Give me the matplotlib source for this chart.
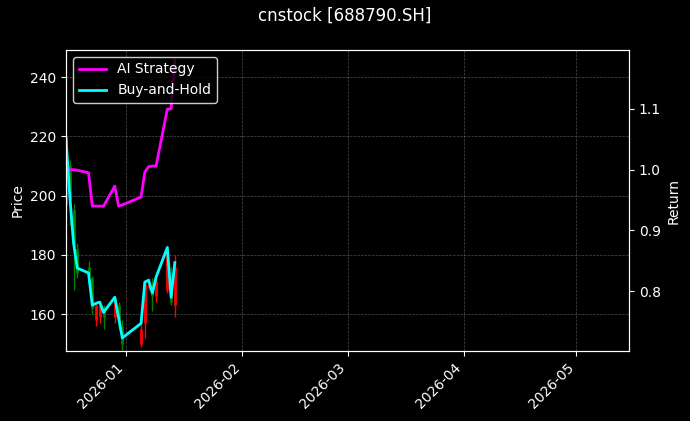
import matplotlib
matplotlib.use("Agg")
import matplotlib.pyplot as plt
import matplotlib.dates as mdates
import pandas as pd

dates = pd.to_datetime(["2025-12-16","2025-12-17","2025-12-18","2025-12-19","2025-12-22","2025-12-23",
    "2025-12-24","2025-12-25","2025-12-26","2025-12-29","2025-12-30","2025-12-31",
    "2026-01-05","2026-01-06","2026-01-07","2026-01-08","2026-01-09","2026-01-12","2026-01-13","2026-01-14"])
opens  = [197,210,195,182,176,172,158,159,162,159,163,156,150,157,169,168,166,168,173,163]
highs  = [220,212,197,184,178,173,164,163,163,166,164,158,157,171,172,172,172,183,176,180]
lows   = [195,190,168,172,170,160,156,157,155,157,155,148,149,152,168,161,164,167,163,159]
closes = [219,199,183,174,173,162,163,163,159,164,157,150,155,170,170,166,171,181,164,176]
ai_ret = [1.0,1.0,1.0,0.999,0.995,0.94,0.94,0.94,0.94,0.973,0.94,0.942,0.955,0.996,1.005,1.006,1.006,1.10,1.10,1.18]
bh_ret = [1.052,0.957,0.88,0.838,0.830,0.777,0.780,0.782,0.765,0.790,0.757,0.723,0.747,0.815,0.818,0.797,0.823,0.872,0.790,0.847]

fig = plt.figure(figsize=(6.9, 4.21), dpi=100, facecolor="black")
ax = fig.add_axes([66/690, 70/421, 563/690, 301/421], facecolor="black")
ax2 = ax.twinx()

for d, o, h, l, c in zip(dates, opens, highs, lows, closes):
    col = "red" if c >= o else "green"
    ax.vlines(d, l, h, color=col, linewidth=1)
    ax.vlines(d, min(o, c), max(o, c), color=col, linewidth=2)

ax2.plot(dates, ai_ret, color="#ff00ff", linewidth=2, label="AI Strategy")
ax2.plot(dates, bh_ret, color="#00ffff", linewidth=2, label="Buy-and-Hold")

ax.set_xlim(pd.Timestamp("2025-12-16"), pd.Timestamp("2026-05-15"))
ax.set_ylim(147.5, 249.2)
ax2.set_ylim(0.7015, 1.197)
ax.xaxis.set_major_locator(mdates.MonthLocator())
ax.xaxis.set_major_formatter(mdates.DateFormatter("%Y-%m"))
for lab in ax.get_xticklabels():
    lab.set_rotation(45); lab.set_ha("right")
ax.grid(True, color="gray", linestyle="--", linewidth=0.5, alpha=0.6)
ax.set_ylabel("Price", color="white")
ax2.set_ylabel("Return", color="white")
for a in (ax, ax2):
    a.tick_params(colors="white")
    for s in a.spines.values():
        s.set_color("white")
leg = ax2.legend(loc="upper left", facecolor="black", edgecolor="white", labelcolor="white")
fig.suptitle("cnstock [688790.SH]", color="white", y=0.985)
fig.savefig("out.png", dpi=100, facecolor="black")
